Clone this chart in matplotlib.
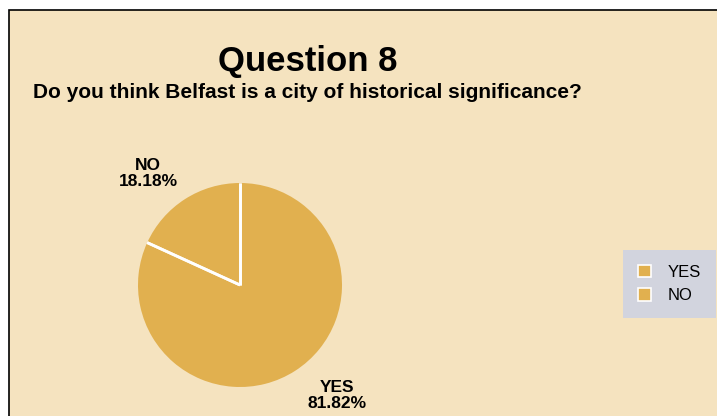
import matplotlib.pyplot as plt
import matplotlib.patches as mpatches
import numpy as np

categories = ["YES", "NO"]
percent = [81.82, 18.18]

bg = "#F5E3BF"
slice_col = "#E1B04F"

plt.rcParams['font.family'] = ['Liberation Sans', 'DejaVu Sans']

fig = plt.figure(figsize=(7.17, 4.16), dpi=100)
fig.patch.set_facecolor("white")

# beige panel with black frame (cropped on right/bottom)
fig.patches.append(mpatches.Rectangle((9 / 717, -0.1), 1.2, 1.1 - 10 / 416,
                                      transform=fig.transFigure, facecolor=bg,
                                      edgecolor="black", linewidth=1.2, zorder=-5))

fig.text(308 / 717, 1 - 62 / 416, "Question 8", ha="center", va="center",
         fontsize=25, fontweight="bold")
fig.text(33 / 717, 1 - 92 / 416, "Do you think Belfast is a city of historical significance?",
         ha="left", va="center", fontsize=15, fontweight="bold")

# pie axes: center (240, 285), radius ~102 px
r = 102
cx, cy = 240, 285
ax = fig.add_axes([(cx - r) / 717, 1 - (cy + r) / 416, 2 * r / 717, 2 * r / 416])
ax.set_facecolor("none")

labels = [f"{c}\n{p:.2f}%" for c, p in zip(categories, percent)]
wedges, texts = ax.pie(percent, labels=labels, colors=[slice_col] * len(percent),
                       startangle=90, counterclock=False, labeldistance=1.40,
                       wedgeprops=dict(edgecolor="none", linewidth=0),
                       textprops=dict(fontsize=12.5, fontweight="bold", ha="center",
                                      va="center", linespacing=1.1))
# white separators only along the radii
for w in wedges:
    for th in (w.theta1, w.theta2):
        t = np.deg2rad(th)
        ax.plot([0, np.cos(t)], [0, np.sin(t)], color="white", lw=2,
                solid_capstyle="butt")

# label placement as in the reference
texts[0].set_position((0.95, -1.08))
texts[1].set_position((-0.90, 1.09))

ax.set_xlim(-1, 1)
ax.set_ylim(-1, 1)
ax.set_aspect("equal")

handles = [mpatches.Patch(facecolor=slice_col, edgecolor="white", linewidth=1.2)
           for _ in categories]
leg = fig.legend(handles, categories, loc="center left",
                 bbox_to_anchor=(623 / 717, 1 - 284 / 416), frameon=True,
                 fontsize=12, handlelength=0.8, handleheight=0.8,
                 handletextpad=1.0, borderpad=0.9, labelspacing=0.5,
                 borderaxespad=0, fancybox=False)
leg.get_frame().set_facecolor("#D2D4DE")
leg.get_frame().set_edgecolor("none")
leg.get_frame().set_alpha(1)

fig.savefig("out.png", dpi=100, facecolor=fig.get_facecolor())
